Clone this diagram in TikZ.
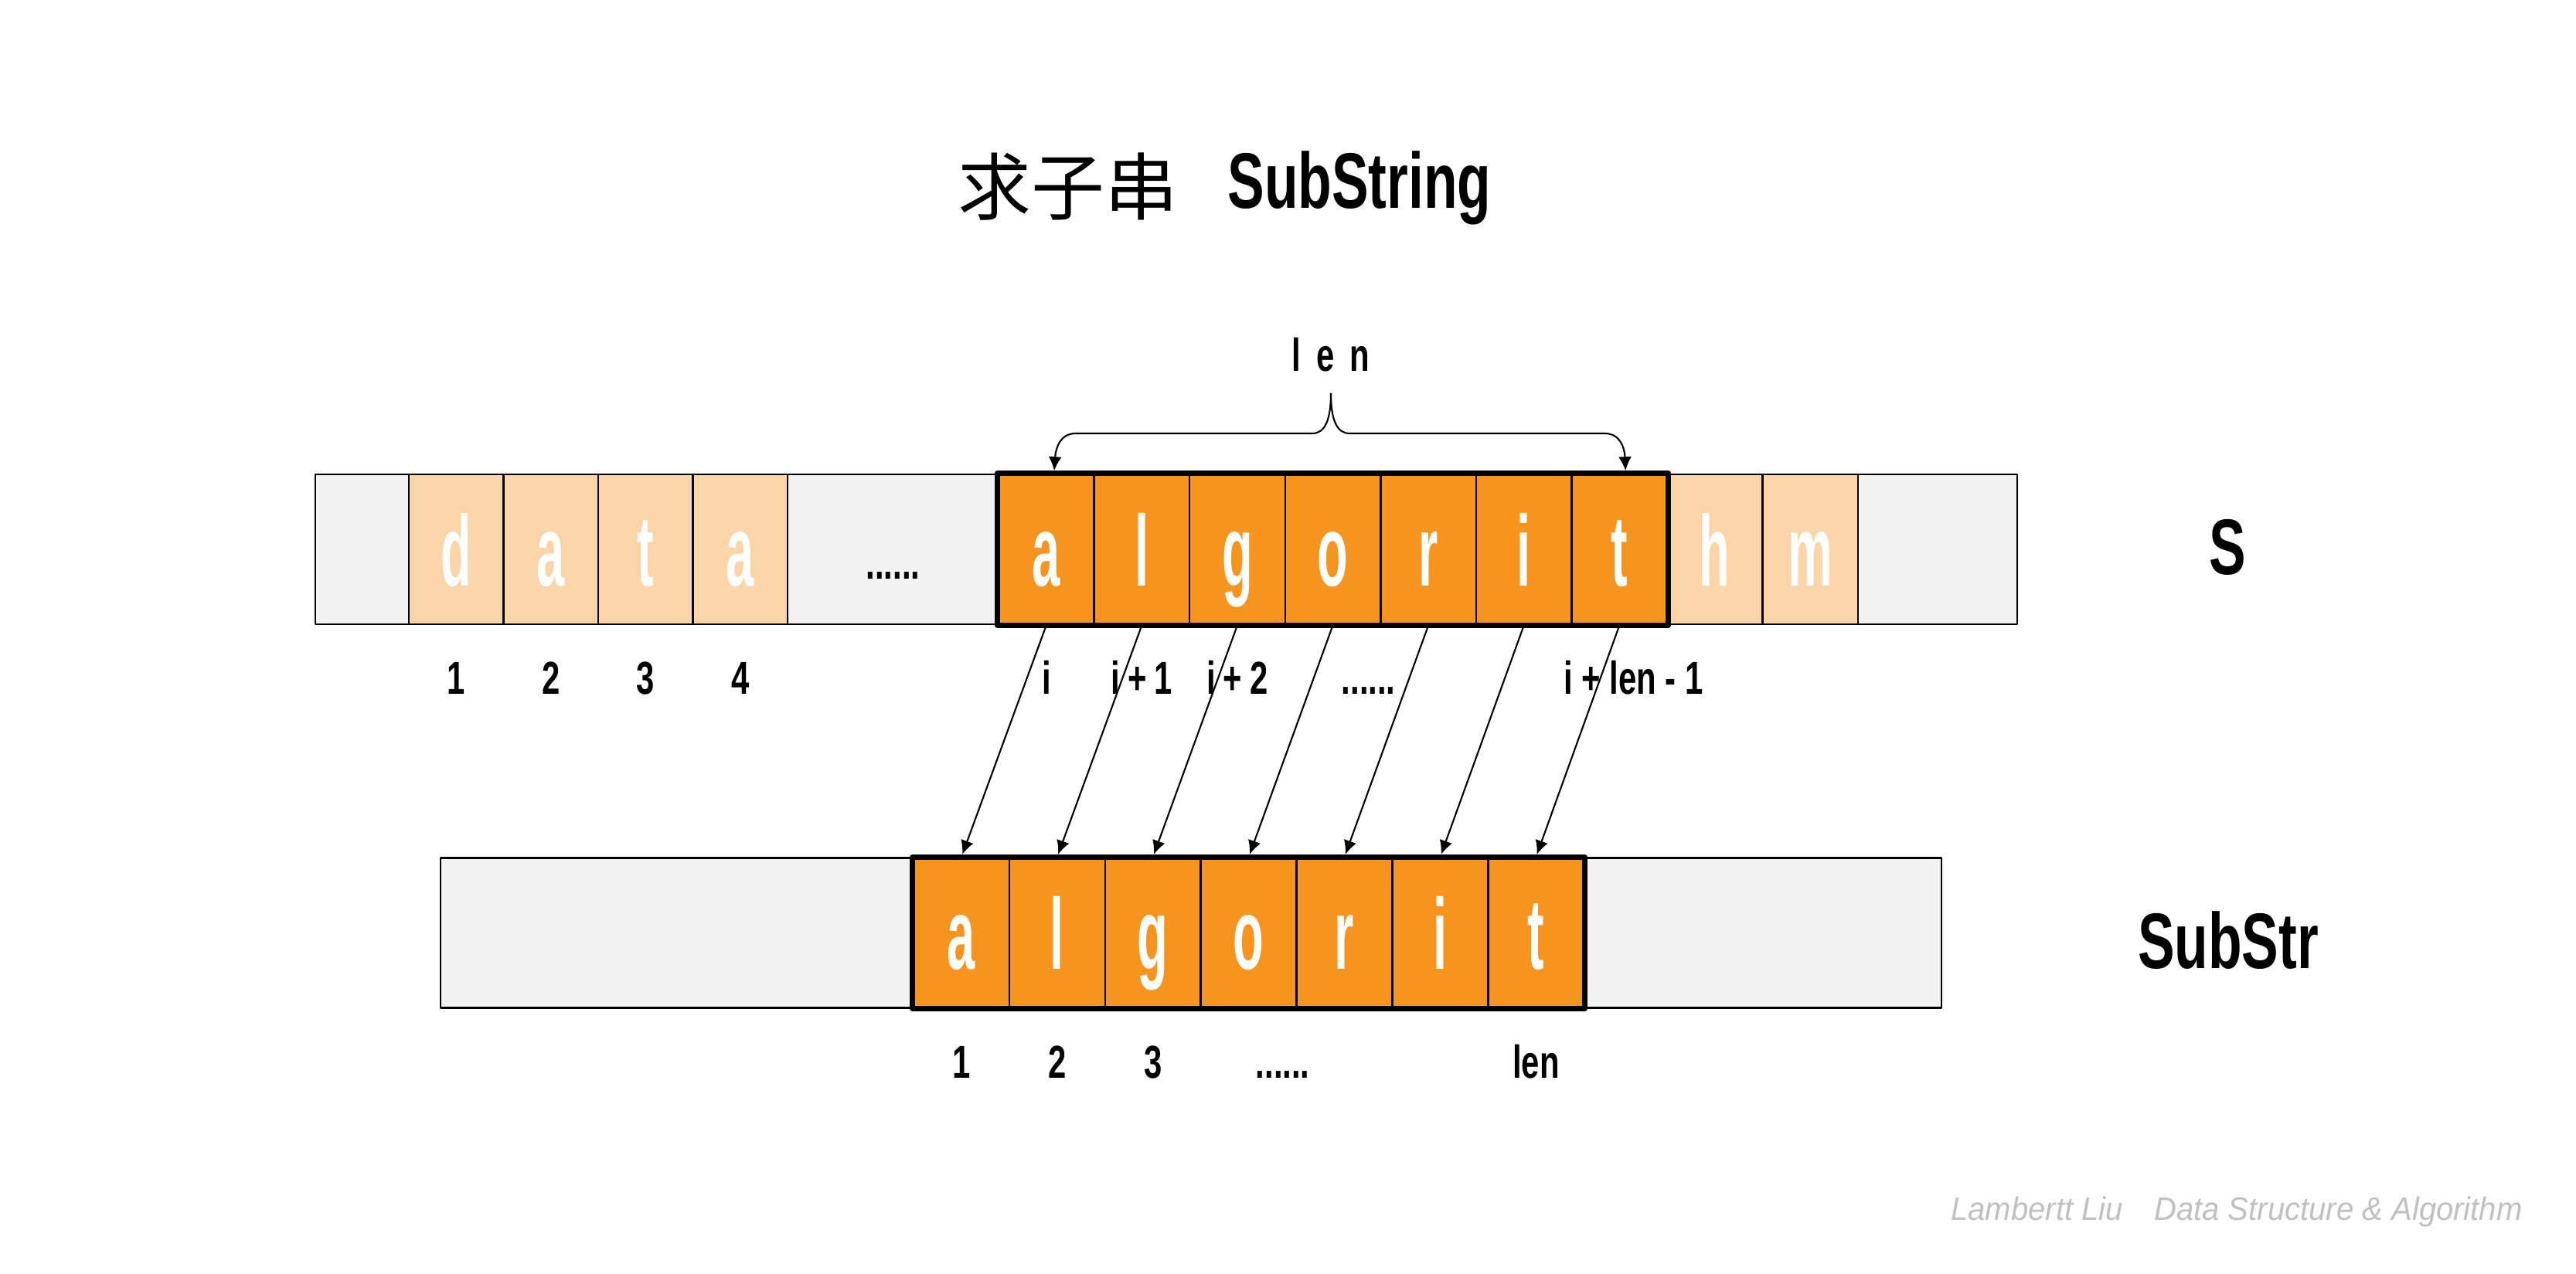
\documentclass[tikz,border=0pt]{standalone}
\usepackage{fontspec}
\usetikzlibrary{arrows.meta}

\newfontfamily\agency{Liberation Sans}[FakeStretch=0.7]
\newfontfamily\agencynarrow{Liberation Sans}[FakeStretch=0.5]
\newfontfamily\cjk{Noto Sans CJK SC}
\newfontfamily\signfont{Liberation Sans}[FakeStretch=0.95]

\definecolor{cellgray}{HTML}{F2F2F2}
\definecolor{lightorange}{HTML}{FBD5A8}
\definecolor{deeporange}{HTML}{F7941D}
\definecolor{signgray}{HTML}{C0C0C0}

\tikzset{
  cell/.style={draw, line width=0.7pt, inner sep=0pt, minimum height=1.94cm,
    text height=0.95cm, text depth=0pt, text=white,
    font=\agencynarrow\bfseries\fontsize{37}{37}\selectfont},
  blank/.style={cell, fill=cellgray},
  faded/.style={cell, fill=lightorange, minimum width=1.225cm},
  picked/.style={cell, fill=deeporange},
  frame/.style={line width=2pt},
  link/.style={line width=0.6pt, shorten >=1pt},
  idx/.style={anchor=base, font=\agency\bfseries\fontsize{17}{17}\selectfont},
  bigname/.style={anchor=base, font=\agency\bfseries\fontsize{29}{29}\selectfont}
}

\begin{document}
\begin{tikzpicture}[>={Latex[length=1.8mm, width=1.7mm]}, line join=round]
  \useasboundingbox (0,0) rectangle (33.33,16.49);

  % Title
  \node[font=\cjk\fontsize{27}{27}\selectfont] (titlecn) at (13.82,14.07) {求子串};
  \node[bigname] (titleen) at (17.59,13.79) {SubString};

  % String S
  \node[blank, minimum width=1.21cm] (lft) at (4.685,9.38) {};
  \node[faded] (d1) at (5.9025,9.38) {d};
  \node[faded] (d2) at (7.1275,9.38) {a};
  \node[faded] (d3) at (8.3525,9.38) {t};
  \node[faded] (d4) at (9.5775,9.38) {a};
  \node[blank, minimum width=2.73cm] (gap) at (11.555,9.38) {};
  \node[picked, minimum width=1.236cm] (a1) at (13.538,9.38) {a};
  \node[picked, minimum width=1.236cm] (a2) at (14.774,9.38) {l};
  \node[picked, minimum width=1.236cm] (a3) at (16.010,9.38) {g};
  \node[picked, minimum width=1.236cm] (a4) at (17.246,9.38) {o};
  \node[picked, minimum width=1.236cm] (a5) at (18.482,9.38) {r};
  \node[picked, minimum width=1.236cm] (a6) at (19.718,9.38) {i};
  \node[picked, minimum width=1.236cm] (a7) at (20.954,9.38) {t};
  \node[faded, minimum width=1.232cm] (h) at (22.186,9.38) {h};
  \node[faded, minimum width=1.236cm] (m) at (23.422,9.38) {m};
  \node[blank, minimum width=2.06cm] (rgt) at (25.07,9.38) {};
  \draw[frame] (a1.north west) rectangle (a7.south east);
  \node[idx] (gapdots) at (11.555,8.99) {......};
  \node[bigname] (slbl) at (28.82,9.05) {S};

  % String SubStr
  \node[blank, minimum width=6.12cm] (blft) at (8.76,4.415) {};
  \node[picked, minimum width=1.239cm] (b1) at (12.4395,4.415) {a};
  \node[picked, minimum width=1.239cm] (b2) at (13.6785,4.415) {l};
  \node[picked, minimum width=1.239cm] (b3) at (14.9175,4.415) {g};
  \node[picked, minimum width=1.239cm] (b4) at (16.1565,4.415) {o};
  \node[picked, minimum width=1.239cm] (b5) at (17.3955,4.415) {r};
  \node[picked, minimum width=1.239cm] (b6) at (18.6345,4.415) {i};
  \node[picked, minimum width=1.239cm] (b7) at (19.8735,4.415) {t};
  \node[blank, minimum width=4.627cm] (brgt) at (22.8065,4.415) {};
  \draw[frame] (b1.north west) rectangle (b7.south east);
  \node[bigname] (sublbl) at (28.83,3.95) {SubStr};

  % Indices
  \node[idx] at ([yshift=-0.89cm]d1.south) {1};
  \node[idx] at ([yshift=-0.89cm]d2.south) {2};
  \node[idx] at ([yshift=-0.89cm]d3.south) {3};
  \node[idx] at ([yshift=-0.89cm]d4.south) {4};
  \node[idx] at ([yshift=-0.89cm]a1.south) {i};
  \node[idx] at ([yshift=-0.89cm]a2.south) {i\,+\,1};
  \node[idx] at ([yshift=-0.89cm]a3.south) {i\,+\,2};
  \node[idx] at ([xshift=0.46cm, yshift=-0.89cm]a4.south) {......};
  \node[idx] at ([xshift=0.18cm, yshift=-0.89cm]a7.south) {i + len - 1};
  \node[idx] at ([yshift=-0.9cm]b1.south) {1};
  \node[idx] at ([yshift=-0.9cm]b2.south) {2};
  \node[idx] at ([yshift=-0.9cm]b3.south) {3};
  \node[idx] at ([xshift=0.44cm, yshift=-0.9cm]b4.south) {......};
  \node[idx] at ([yshift=-0.9cm]b7.south) {len};

  % Brace over the picked part
  \coordinate (cusp) at (17.22,11.40);
  \node[idx, anchor=center] (lenlbl) at (17.22,11.90) {l\hspace{2mm}e\hspace{2mm}n};
  \draw[->, link] (cusp) .. controls (17.22,11.05) and (17.14,10.88) .. (16.98,10.88)
    -- (13.92,10.88) .. controls (13.72,10.88) and (13.66,10.70) .. ([xshift=1mm]a1.north);
  \draw[->, link] (cusp) .. controls (17.22,11.05) and (17.30,10.88) .. (17.46,10.88)
    -- (20.76,10.88) .. controls (20.96,10.88) and (21.02,10.70) .. ([xshift=0.8mm]a7.north);

  % Copy arrows
  \draw[->, link] (a1.south) -- (b1.north);
  \draw[->, link] (a2.south) -- (b2.north);
  \draw[->, link] (a3.south) -- (b3.north);
  \draw[->, link] (a4.south) -- (b4.north);
  \draw[->, link] (a5.south) -- (b5.north);
  \draw[->, link] (a6.south) -- (b6.north);
  \draw[->, link] (a7.south) -- (b7.north);

  % Signature
  \node[font=\signfont\itshape\fontsize{12}{12}\selectfont, text=signgray, anchor=base west]
    (sign) at (25.12,0.69) {Lambertt Liu\hspace{0.4cm}Data Structure \& Algorithm};
\end{tikzpicture}
\end{document}
